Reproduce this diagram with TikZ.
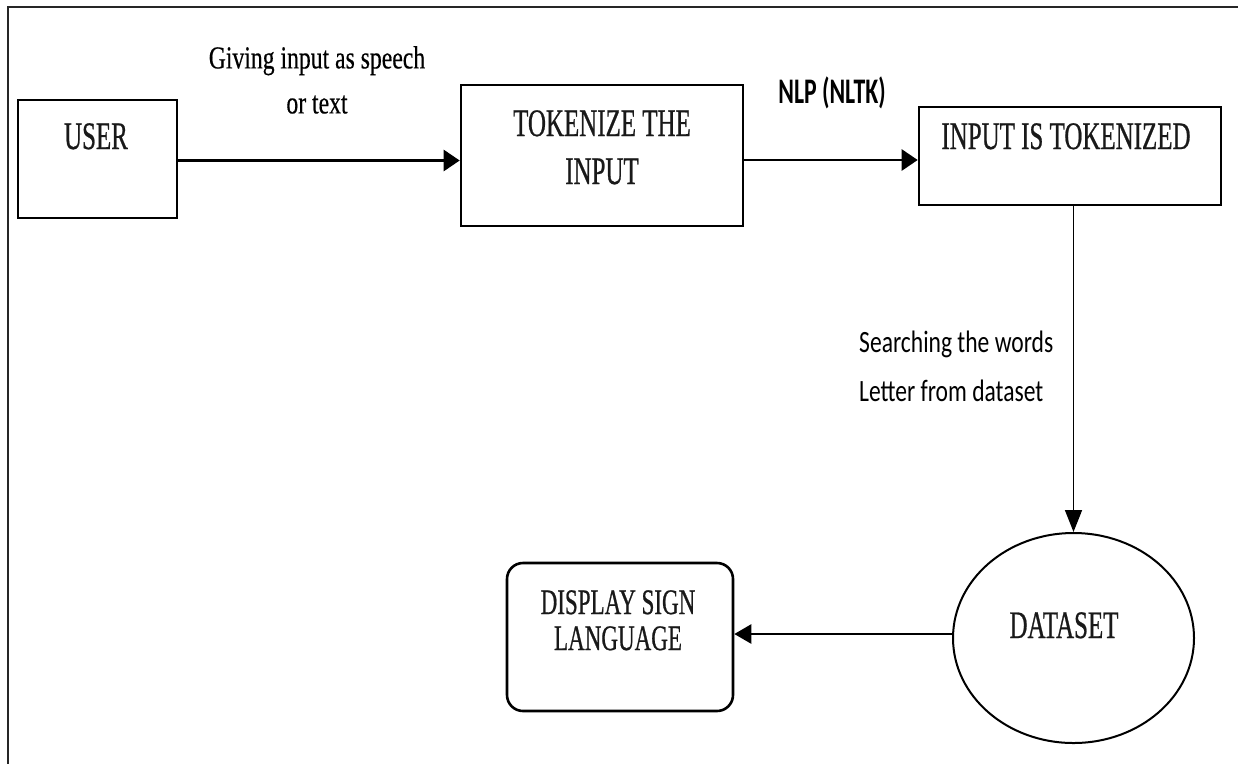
\documentclass[tikz,border=0pt]{standalone}
\usepackage{fontspec}
\setmainfont{Liberation Serif}
\newfontfamily\boxfont[FakeStretch=0.64,FakeBold=0.6]{Liberation Serif}
\newfontfamily\lblfont[FakeStretch=0.74,FakeBold=0.4]{Liberation Serif}
\newfontfamily\nlpfont[FakeStretch=0.66]{Carlito}
\newfontfamily\srchfont[FakeStretch=0.76]{Carlito}
\usetikzlibrary{arrows.meta,shapes.geometric}

\begin{document}
\begin{tikzpicture}[x=1pt,y=-1pt,
  frameline/.style={line width=2.6pt, draw=black!85},
  shapebox/.style={draw=black, line width=2.6pt, inner sep=0pt},
  boxtxt/.style={inner sep=0pt, anchor=north, align=center, text=black!90, font=\boxfont\fontsize{39}{48}\selectfont},
  hconn/.style={line width=2.6pt, draw=black, -{Triangle[length=16pt,width=21pt]}},
  vconn/.style={line width=1.6pt, draw=black, -{Triangle[length=22pt,width=17pt]}},
  lconn/.style={line width=2.6pt, draw=black, -{Triangle[length=17pt,width=19pt]}},
]
\useasboundingbox (0,0) rectangle (1238,764);

% outer frame (cut at right and bottom)
\coordinate (ftr) at (1238,7);
\coordinate (ftl) at (8,7);
\coordinate (fbl) at (8,764);
\draw[frameline] (ftr) -- (ftl) -- (fbl);

% shapes
\node[shapebox, minimum width=159pt, minimum height=118pt] (user) at (97.5,159) {};
\node[shapebox, minimum width=282pt, minimum height=141pt] (tok) at (602,155.5) {};
\node[shapebox, minimum width=302pt, minimum height=98pt] (inp) at (1070,156) {};
\node[shapebox, rounded corners=16pt, minimum width=226pt, minimum height=148pt] (disp) at (620,637) {};
\node[shapebox, ellipse, line width=2pt, minimum width=241pt, minimum height=210pt] (data) at (1073.5,638) {};

% texts inside shapes
\node[boxtxt] (usertxt) at (96,123) {USER};
\node[boxtxt] (toktxt) at (602,110) {TOKENIZE THE\\INPUT};
\node[boxtxt] (inptxt) at (1066,123) {INPUT IS TOKENIZED};
\node[boxtxt, font=\boxfont\fontsize{36}{36}\selectfont] (disptxt) at (618,590) {DISPLAY SIGN\\LANGUAGE};
\node[boxtxt] (datatxt) at (1064,612) {DATASET};

% connectors
\draw[hconn] ([yshift=-1.5pt]user.east) -- ([yshift=-1.5pt]user.east -| tok.west);
\draw[hconn] ([yshift=-4.5pt]tok.east) -- ([yshift=-4.5pt]tok.east -| inp.west);
\draw[vconn] (data.north |- inp.south) -- (data.north);
\draw[lconn] ([yshift=4pt]data.west) -- ([yshift=4pt]data.west -| disp.east);

% connector labels
\node[inner sep=0pt, anchor=north, align=center, font=\lblfont\fontsize{32}{45}\selectfont] (givelbl) at (317,46) {Giving input as speech\\or text};
\node[inner sep=0pt, anchor=base, font=\nlpfont\bfseries\fontsize{36}{40}\selectfont] (nlplbl) at (832,103) {NLP (NLTK)};
\node[inner sep=0pt, anchor=north west, align=left, font=\srchfont\fontsize{31}{49}\selectfont] (srchlbl) at (859,331) {Searching the words\\Letter from dataset};
\end{tikzpicture}
\end{document}
